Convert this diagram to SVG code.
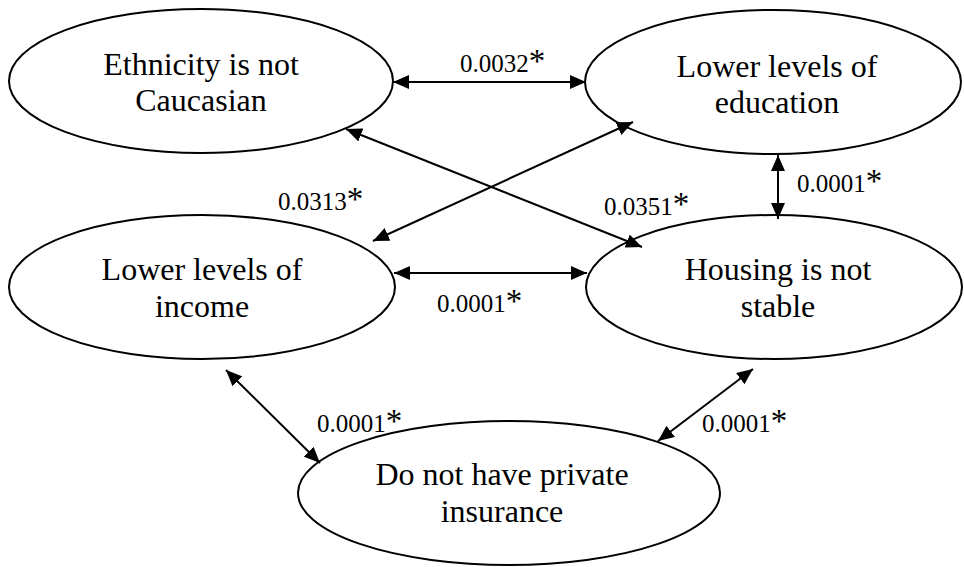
<svg xmlns="http://www.w3.org/2000/svg" width="964" height="567" viewBox="0 0 964 567">
<style>
.node ellipse{fill:#fff;stroke:#000;stroke-width:2}
.nt{font-family:'Liberation Serif',serif;font-size:32px;fill:#000;text-anchor:middle}
.edge line{stroke:#000;stroke-width:2;marker-start:url(#ah);marker-end:url(#ah)}
.lbl{font-family:'Liberation Serif',serif;font-size:25px;fill:#000}
.ast{font-size:33px}
</style>
<defs>
<marker id="ah" markerUnits="userSpaceOnUse" markerWidth="16" markerHeight="14" refX="16" refY="7" orient="auto-start-reverse" viewBox="0 0 16 14">
<path d="M0,0 L16,7 L0,14 z" fill="#000"/>
</marker>
</defs>
<rect width="964" height="567" fill="#fff"/>
<g id="n-ethnicity" class="node"><ellipse cx="201" cy="81" rx="192" ry="72"/><text class="nt" font-family="Liberation Serif, serif" x="201" y="75">Ethnicity is not</text><text class="nt" font-family="Liberation Serif, serif" x="201" y="111">Caucasian</text></g>
<g id="n-education" class="node"><ellipse cx="773" cy="82" rx="188" ry="72"/><text class="nt" font-family="Liberation Serif, serif" x="777" y="77">Lower levels of</text><text class="nt" font-family="Liberation Serif, serif" x="777" y="113">education</text></g>
<g id="n-income" class="node"><ellipse cx="202" cy="287" rx="193" ry="72"/><text class="nt" font-family="Liberation Serif, serif" x="202" y="280">Lower levels of</text><text class="nt" font-family="Liberation Serif, serif" x="202" y="317">income</text></g>
<g id="n-housing" class="node"><ellipse cx="774" cy="287" rx="188" ry="72"/><text class="nt" font-family="Liberation Serif, serif" x="778" y="280">Housing is not</text><text class="nt" font-family="Liberation Serif, serif" x="778" y="317">stable</text></g>
<g id="n-insurance" class="node"><ellipse cx="509" cy="493" rx="211" ry="72"/><text class="nt" font-family="Liberation Serif, serif" x="502" y="485">Do not have private</text><text class="nt" font-family="Liberation Serif, serif" x="502" y="522">insurance</text></g>
<g id="connectors" class="edge">
<line x1="393" y1="82" x2="586" y2="82"/>
<line x1="778" y1="155" x2="778" y2="219"/>
<line x1="394" y1="273" x2="587" y2="273"/>
<line x1="346" y1="129" x2="642" y2="247"/>
<line x1="633" y1="122" x2="373" y2="241"/>
<line x1="226" y1="370" x2="320" y2="463"/>
<line x1="753" y1="369" x2="658" y2="441"/>
</g>
<g id="labels">
<text class="lbl" x="460" y="72">0.0032<tspan class="ast">*</tspan></text>
<text class="lbl" x="278" y="210">0.0313<tspan class="ast">*</tspan></text>
<text class="lbl" x="604" y="215">0.0351<tspan class="ast">*</tspan></text>
<text class="lbl" x="797" y="192">0.0001<tspan class="ast">*</tspan></text>
<text class="lbl" x="437" y="312">0.0001<tspan class="ast">*</tspan></text>
<text class="lbl" x="317" y="432">0.0001<tspan class="ast">*</tspan></text>
<text class="lbl" x="702" y="432">0.0001<tspan class="ast">*</tspan></text>
</g>
</svg>
